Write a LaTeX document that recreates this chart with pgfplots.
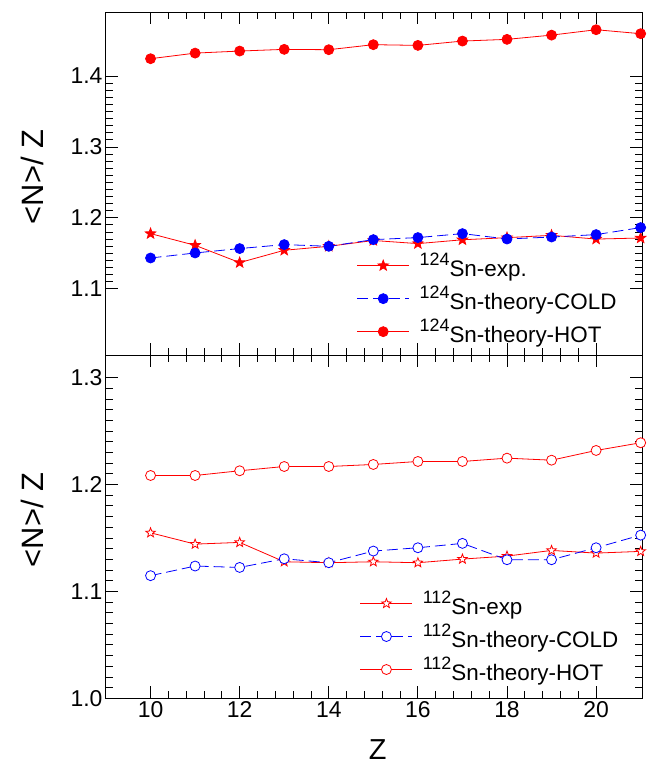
\documentclass[border=0pt]{standalone}
\usepackage{fontspec}
\setmainfont{Liberation Sans}
\usepackage{pgfplots}
\pgfplotsset{compat=1.18}
\definecolor{pr}{RGB}{255,0,0}
\definecolor{pb}{RGB}{0,0,255}
\pgfdeclareplotmark{fivestar}{%
  \pgfpathmoveto{\pgfpointpolar{90}{\pgfplotmarksize}}%
  \pgfpathlineto{\pgfpointpolar{126}{0.42\pgfplotmarksize}}%
  \pgfpathlineto{\pgfpointpolar{162}{\pgfplotmarksize}}%
  \pgfpathlineto{\pgfpointpolar{198}{0.42\pgfplotmarksize}}%
  \pgfpathlineto{\pgfpointpolar{234}{\pgfplotmarksize}}%
  \pgfpathlineto{\pgfpointpolar{270}{0.42\pgfplotmarksize}}%
  \pgfpathlineto{\pgfpointpolar{306}{\pgfplotmarksize}}%
  \pgfpathlineto{\pgfpointpolar{342}{0.42\pgfplotmarksize}}%
  \pgfpathlineto{\pgfpointpolar{18}{\pgfplotmarksize}}%
  \pgfpathlineto{\pgfpointpolar{54}{0.42\pgfplotmarksize}}%
  \pgfpathclose
  \pgfusepathqfillstroke}
\newcommand{\iso}[1]{\raisebox{11bp}{\fontsize{18}{18}\selectfont #1}}
\pgfplotsset{
  panel/.style={
    scale only axis, width=536bp, height=343bp,
    xmin=9, xmax=21.03,
    xtick={10,12,...,20}, minor x tick num=4,
    minor y tick num=9,
    tick align=inside,
    major tick length=12bp, minor tick length=7bp,
    every tick/.style={black, line width=0.8bp},
    axis line style={line width=1bp},
    ticklabel style={font=\fontsize{23}{23}\selectfont},
    /pgf/number format/assume math mode=true,
    yticklabel style={/pgf/number format/fixed, /pgf/number format/fixed zerofill, /pgf/number format/precision=1},
    ylabel={<N>/ Z},
    ylabel style={font=\fontsize{31}{31}\selectfont, at={(axis description cs:-0.138,0.52)}, anchor=center},
    legend cell align=left,
    legend image code/.code={\draw[mark repeat=2,mark phase=2,##1] plot coordinates {(0bp,0bp) (26bp,0bp) (52bp,0bp)};},
    legend style={draw=none, fill=none, font=\fontsize{22.5}{22.5}\selectfont, row sep=4bp,
      /tikz/every odd column/.append style={column sep=8bp}},
  },
  hot/.style={pr, line width=0.8bp, mark=*, mark size=5bp, mark options={solid, fill=pr}},
  cold/.style={pb, line width=0.8bp, dash pattern=on 11bp off 5bp, mark=*, mark size=5bp, mark options={solid, fill=pb}},
  exp/.style={pr, line width=0.8bp, mark=fivestar, mark size=5.5bp, mark options={solid, fill=pr}},
  hoto/.style={pr, line width=0.8bp, mark=*, mark size=5bp, mark options={solid, fill=white}},
  coldo/.style={pb, line width=0.8bp, dash pattern=on 11bp off 5bp, mark=*, mark size=5bp, mark options={solid, fill=white}},
  expo/.style={pr, line width=0.8bp, mark=fivestar, mark size=5bp, mark options={solid, fill=white}},
}
\begin{document}
\begin{tikzpicture}
\useasboundingbox (-106bp,-68.7bp) rectangle (548bp,698.3bp);
% top panel
\begin{axis}[panel, at={(0,343bp)}, anchor=south west,
  ymin=1.006, ymax=1.49, ytick={1.1,1.2,1.3,1.4}, xticklabels={},
  legend style={at={(0.462,0.31)}, anchor=north west}]
\addplot[exp] coordinates {(10,1.1777) (11,1.1612) (12,1.1368) (13,1.1542) (14,1.1598) (15,1.1680) (16,1.1636) (17,1.1690) (18,1.1720) (19,1.1753) (20,1.1700) (21,1.1715)};
\addlegendentry{\iso{124}Sn-exp.}
\addplot[cold] coordinates {(10,1.1433) (11,1.1504) (12,1.1566) (13,1.1622) (14,1.1598) (15,1.1692) (16,1.1721) (17,1.1777) (18,1.1701) (19,1.1729) (20,1.1763) (21,1.1862)};
\addlegendentry{\iso{124}Sn-theory-COLD}
\addplot[hot] coordinates {(10,1.4245) (11,1.4324) (12,1.4353) (13,1.4377) (14,1.4372) (15,1.4443) (16,1.4433) (17,1.4494) (18,1.4518) (19,1.4578) (20,1.4654) (21,1.4598)};
\addlegendentry{\iso{124}Sn-theory-HOT}
\end{axis}
% bottom panel
\begin{axis}[panel, at={(0,0)}, anchor=south west,
  ymin=1.0, ymax=1.3208, ytick={1.0,1.1,1.2,1.3},
  xlabel={Z}, xlabel style={font=\fontsize{29}{29}\selectfont, at={(axis description cs:0.507,-0.148)}, anchor=center},
  legend style={at={(0.468,0.325)}, anchor=north west}]
\addplot[expo] coordinates {(10,1.1548) (11,1.1442) (12,1.1458) (13,1.1277) (14,1.1268) (15,1.1277) (16,1.1268) (17,1.1302) (18,1.1330) (19,1.1383) (20,1.1358) (21,1.1374)};
\addlegendentry{\iso{112}Sn-exp}
\addplot[coldo] coordinates {(10,1.1147) (11,1.1237) (12,1.1224) (13,1.1305) (14,1.1268) (15,1.1377) (16,1.1408) (17,1.1449) (18,1.1296) (19,1.1296) (20,1.1408) (21,1.1526)};
\addlegendentry{\iso{112}Sn-theory-COLD}
\addplot[hoto] coordinates {(10,1.2084) (11,1.2084) (12,1.2128) (13,1.2168) (14,1.2168) (15,1.2187) (16,1.2215) (17,1.2215) (18,1.2246) (19,1.2227) (20,1.2318) (21,1.2390)};
\addlegendentry{\iso{112}Sn-theory-HOT}
\end{axis}
\end{tikzpicture}
\end{document}
